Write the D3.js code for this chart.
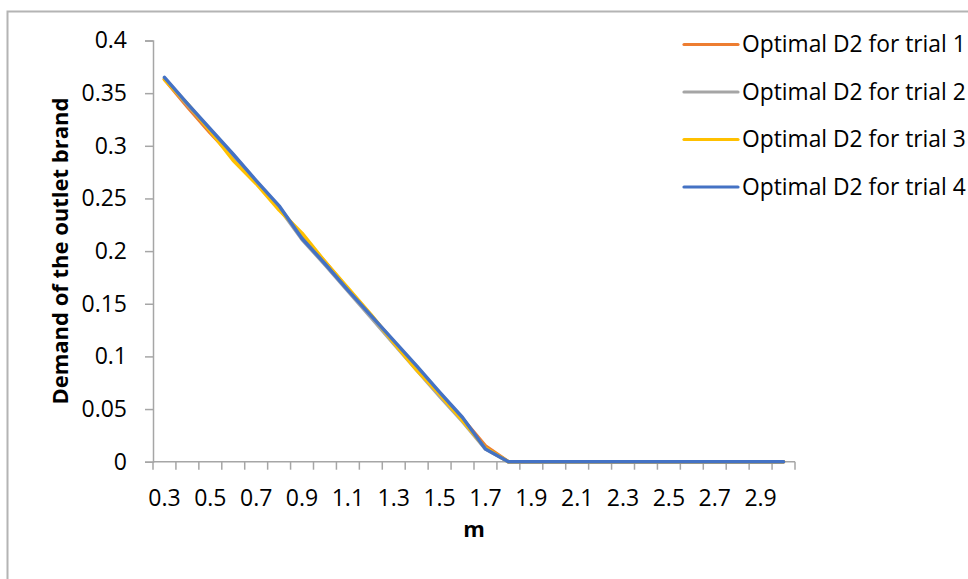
<!DOCTYPE html>
<html>
<head>
<meta charset="utf-8">
<script src="https://cdn.jsdelivr.net/npm/d3@7/dist/d3.min.js"></script>
<style>
  html, body { margin: 0; padding: 0; background: #ffffff; overflow: hidden; }
  svg { display: block; }
</style>
</head>
<body>
<script>
// m values on the category axis (0.3 .. 3.0)
const categories = ["0.3","0.4","0.5","0.6","0.7","0.8","0.9","1","1.1","1.2","1.3","1.4","1.5","1.6","1.7","1.8",
                    "1.9","2","2.1","2.2","2.3","2.4","2.5","2.6","2.7","2.8","2.9","3"];
const xTickLabels = ["0.3","0.5","0.7","0.9","1.1","1.3","1.5","1.7","1.9","2.1","2.3","2.5","2.7","2.9"];
const yTicks = [0, 0.05, 0.1, 0.15, 0.2, 0.25, 0.3, 0.35, 0.4];

const seriesNames = ["Optimal D2 for trial 1", "Optimal D2 for trial 2", "Optimal D2 for trial 3", "Optimal D2 for trial 4"];
const seriesColors = ["#ED7D31", "#A5A5A5", "#FFC000", "#4472C4"];

const trial1 = [0.363,0.337,0.312,0.289,0.266,0.241,0.214,0.190,0.164,0.139,0.114,0.089,0.065,0.041,0.015,0,
                0,0,0,0,0,0,0,0,0,0,0,0];
const trial2 = [0.364,0.339,0.315,0.290,0.266,0.241,0.211,0.187,0.162,0.137,0.112,0.087,0.062,0.038,0.012,0,
                0,0,0,0,0,0,0,0,0,0,0,0];
const trial3 = [0.363,0.340,0.314,0.286,0.264,0.239,0.217,0.190,0.165,0.140,0.113,0.087,0.064,0.039,0.013,0,
                0,0,0,0,0,0,0,0,0,0,0,0];
const trial4 = [0.365,0.340,0.316,0.292,0.267,0.243,0.212,0.188,0.163,0.139,0.115,0.091,0.066,0.042,0.012,0,
                0,0,0,0,0,0,0,0,0,0,0,0];
const seriesValues = [trial1, trial2, trial3, trial4];

const W = 968, H = 579;
const font = "'Open Sans', sans-serif";
const axisColor = "#a6a6a6";

const svg = d3.select("body").append("svg").attr("width", W).attr("height", H);

// chart area frame
svg.append("rect")
  .attr("x", 7.5).attr("y", 11.5)
  .attr("width", W + 20).attr("height", H + 20)
  .attr("fill", "#ffffff").attr("stroke", "#b4b4b4").attr("stroke-width", 2);

const plot = { left: 153, right: 795, top: 40.5, bottom: 461.7 };

const x = d3.scaleBand().domain(categories).range([plot.left, plot.right]).paddingInner(0).paddingOuter(0);
const y = d3.scaleLinear().domain([0, 0.4]).range([plot.bottom, plot.top]);

// y axis
const yAxis = svg.append("g")
  .attr("transform", `translate(${plot.left},0)`)
  .call(d3.axisLeft(y).tickValues(yTicks).tickSize(8).tickPadding(18)
        .tickFormat(d => d3.format("")(+d.toFixed(2))));
yAxis.select(".domain").attr("stroke", axisColor).attr("stroke-width", 1.5);
yAxis.selectAll(".tick line").attr("stroke", axisColor).attr("stroke-width", 1.5);
yAxis.selectAll(".tick text").attr("font-family", font).attr("font-size", 23).attr("fill", "#000");

// x axis: ticks at category boundaries, labels at every other category center
const xAxisG = svg.append("g").attr("transform", `translate(0,${plot.bottom})`);
xAxisG.append("line")
  .attr("x1", plot.left).attr("x2", plot.right)
  .attr("stroke", axisColor).attr("stroke-width", 1.5);
const boundaries = d3.range(categories.length + 1).map(i => plot.left + i * x.step());
xAxisG.selectAll("line.tk").data(boundaries).enter().append("line")
  .attr("class", "tk")
  .attr("x1", d => d).attr("x2", d => d).attr("y1", 0).attr("y2", 8)
  .attr("stroke", axisColor).attr("stroke-width", 1.5);
xAxisG.selectAll("text").data(xTickLabels).enter().append("text")
  .attr("x", d => x(d) + x.bandwidth() / 2)
  .attr("y", 44)
  .attr("text-anchor", "middle")
  .attr("font-family", font).attr("font-size", 23).attr("fill", "#000")
  .text(d => d);

// axis titles
svg.append("text")
  .attr("x", (plot.left + plot.right) / 2).attr("y", 537)
  .attr("text-anchor", "middle")
  .attr("font-family", font).attr("font-size", 22).attr("font-weight", "bold").attr("fill", "#000")
  .text("m");
svg.append("text")
  .attr("transform", `translate(68,${(plot.top + plot.bottom) / 2}) rotate(-90)`)
  .attr("text-anchor", "middle")
  .attr("font-family", font).attr("font-size", 22).attr("font-weight", "bold").attr("fill", "#000")
  .text("Demand of the outlet brand");

// series lines
const line = d3.line()
  .x((d, i) => x(categories[i]) + x.bandwidth() / 2)
  .y(d => y(d))
  .curve(d3.curveLinear);

seriesValues.forEach((vals, k) => {
  svg.append("path")
    .datum(vals)
    .attr("d", line)
    .attr("fill", "none")
    .attr("stroke", seriesColors[k])
    .attr("stroke-width", 3.5)
    .attr("stroke-linejoin", "round")
    .attr("stroke-linecap", "round");
});

// legend
const legend = svg.append("g").attr("transform", "translate(684,44.5)");
seriesNames.forEach((name, k) => {
  const g = legend.append("g").attr("transform", `translate(0,${k * 47.5})`);
  g.append("line").attr("x1", 0).attr("x2", 54)
    .attr("stroke", seriesColors[k]).attr("stroke-width", 3.2).attr("stroke-linecap", "round");
  g.append("text").attr("x", 58).attr("y", 0).attr("dy", "0.35em")
    .attr("font-family", font).attr("font-size", 22.8).attr("fill", "#000")
    .text(name);
});
</script>
</body>
</html>
